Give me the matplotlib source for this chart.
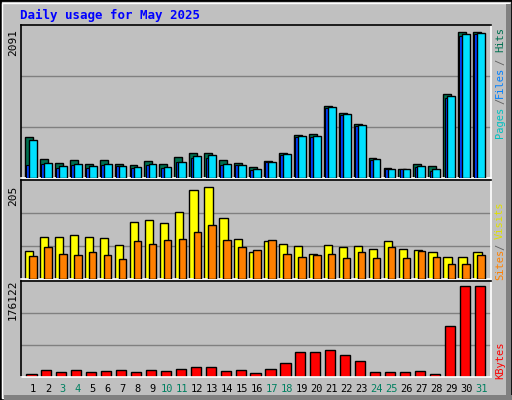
import matplotlib
matplotlib.use("Agg")
import matplotlib.pyplot as plt
from matplotlib.patches import Rectangle

days = list(range(1, 32))
hits = [587,274,218,260,203,260,203,189,246,203,303,360,360,260,218,161,246,360,615,629,1026,927,771,289,147,132,203,175,1197,2091,2091]
files = [544,218,175,203,175,203,175,161,203,161,232,317,331,203,189,132,232,345,601,601,1012,913,757,274,132,132,175,132,1168,2063,2077]
pages = [180,200,150,190,150,190,165,150,190,150,230,280,290,190,180,120,230,330,590,590,1000,900,740,260,125,125,160,100,1150,2040,2060]
visits = [61,91,91,95,91,89,74,124,128,120,145,191,199,132,87,59,81,76,72,55,74,70,72,65,81,65,63,59,48,48,59]
sites = [50,68,55,52,59,52,44,81,76,85,87,102,117,85,68,63,85,55,48,52,55,46,59,46,68,46,61,48,33,33,52]
kbytes = [6428,14142,10285,14142,10285,12213,14142,10285,14142,12213,16070,19927,19927,12213,14142,8356,16070,27640,48853,48853,52710,43068,31497,10285,10285,10285,12213,6428,98988,176122,176122]
weekend = [3,4,10,11,17,18,24,25,31]

W, H = 512, 400
fig = plt.figure(figsize=(W/100, H/100), dpi=100)
fig.patch.set_facecolor('#C0C0C0')
mono = 'DejaVu Sans Mono'

fig.add_artist(Rectangle((0, 0), 1, 1, transform=fig.transFigure, fill=False, ec='black', lw=2))
fig.add_artist(Rectangle((2/W, 2/H), 1-5/W, 1-5/H, transform=fig.transFigure, fill=False, ec='white', lw=1))
fig.add_artist(Rectangle((4/W, 0), 1-4/W, 5/H, transform=fig.transFigure, fc='#808080', ec='none'))
fig.add_artist(Rectangle((1-6/W, 0), 5/W, 1-4/H, transform=fig.transFigure, fc='#808080', ec='none'))

fig.text(20/W, 1-15/H, 'Daily usage for May 2025', color='#0000FF', fontsize=9,
         fontweight='bold', family=mono, va='center', ha='left')

def mkax(top, bottom):
    ax = fig.add_axes([21/W, 1-bottom/H, 470/W, (bottom-top)/H])
    ax.set_facecolor('#C0C0C0')
    ax.set_xlim(0.2, 31.66)
    ax.set_xticks([]); ax.set_yticks([])
    for s in ['left', 'top']:
        ax.spines[s].set_color('black')
    for s in ['right', 'bottom']:
        ax.spines[s].set_color('white')
    for sp in ax.spines.values():
        sp.set_linewidth(1.2)
    return ax

def rlabel(y, s, c):
    fig.text(500/W, 1-y/H, s, rotation=90, family=mono, fontsize=7.5, color=c, ha='center', va='center')

# top panel
ax1 = mkax(25, 178)
top1 = max(hits) * 153/146
ax1.set_ylim(0, top1)
for f in (1/3, 2/3):
    ax1.axhline(top1*f, color='#808080', lw=1, zorder=0)
ax1.bar([d-0.27 for d in days], hits, width=0.53, color='#007050', ec='black', lw=1, zorder=2)
ax1.bar([d-0.3 for d in days], pages, width=0.3, color='#0040FF', ec='black', lw=0.8, zorder=3)
ax1.bar([d+0.0 for d in days], files, width=0.52, color='#00E0FF', ec='black', lw=1, zorder=4)
fig.text(13/W, 1-42/H, '2091', rotation=90, family=mono, fontsize=8, ha='center', va='center')
rlabel(122, 'Pages', '#00C0C0')
rlabel(101, '/', '#606060')
rlabel(82, 'Files', '#0080FF')
rlabel(62, '/', '#606060')
rlabel(40, 'Hits', '#007050')

# middle panel
ax2 = mkax(180, 279)
top2 = 205 * 99/95
ax2.set_ylim(0, top2)
for f in (1/3, 2/3):
    ax2.axhline(top2*f, color='#808080', lw=1, zorder=0)
ax2.bar([d-0.25 for d in days], visits, width=0.55, color='#FFFF00', ec='black', lw=1, zorder=2)
ax2.bar([d+0.0 for d in days], sites, width=0.5, color='#FF8000', ec='black', lw=1, zorder=3)
fig.text(13/W, 1-196/H, '205', rotation=90, family=mono, fontsize=8, ha='center', va='center')
rlabel(264, 'Sites', '#FF8000')
rlabel(247, '/', '#606060')
rlabel(220, 'Visits', '#E0E000')

# bottom panel
ax3 = mkax(281, 377)
top3 = 176122 * 96/91
ax3.set_ylim(0, top3)
for f in (1/3, 2/3):
    ax3.axhline(top3*f, color='#808080', lw=1, zorder=0)
ax3.bar([d-0.1 for d in days], kbytes, width=0.68, color='#FF0000', ec='black', lw=1, zorder=2)
fig.text(13/W, 1-300/H, '176122', rotation=90, family=mono, fontsize=8, ha='center', va='center')
rlabel(360, 'KBytes', '#FF0000')

for d in days:
    x = 21/W + (d - 0.2)/(31.66 - 0.2) * 470/W
    fig.text(x, 1-389/H, str(d), family=mono, fontsize=7.5,
             color='#008060' if d in weekend else 'black', ha='center', va='center')

fig.savefig('out.png', dpi=100, facecolor=fig.get_facecolor())
